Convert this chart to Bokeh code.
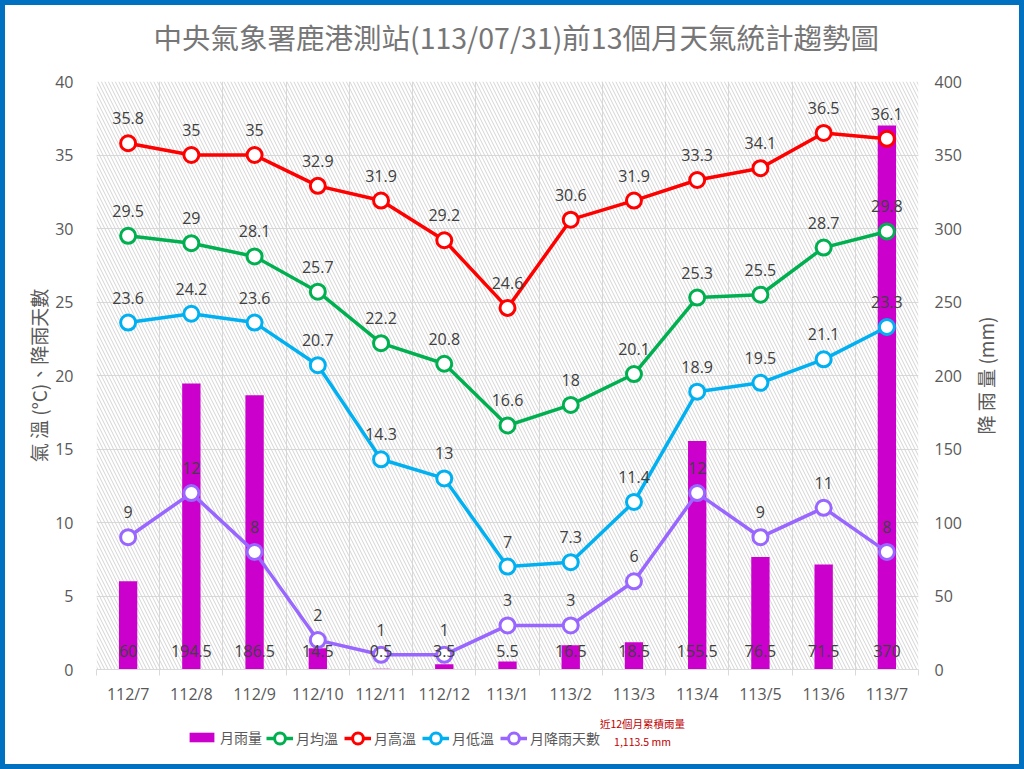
from bokeh.plotting import figure
from bokeh.layouts import column, row
from bokeh.models import (Range1d, LinearAxis, FixedTicker, SingleIntervalTicker, ColumnDataSource,
                          LabelSet, Legend, LegendItem, BoxAnnotation, Label)
from bokeh.embed import file_html
from bokeh.resources import INLINE
from bokeh.core.properties import value

# ---------------- data ----------------
months = ["112/7", "112/8", "112/9", "112/10", "112/11", "112/12", "113/1",
          "113/2", "113/3", "113/4", "113/5", "113/6", "113/7"]
rain_mm = [60, 194.5, 186.5, 14.5, 0.5, 3.5, 5.5, 16.5, 18.5, 155.5, 76.5, 71.5, 370]
avg_temp = [29.5, 29, 28.1, 25.7, 22.2, 20.8, 16.6, 18, 20.1, 25.3, 25.5, 28.7, 29.8]
high_temp = [35.8, 35, 35, 32.9, 31.9, 29.2, 24.6, 30.6, 31.9, 33.3, 34.1, 36.5, 36.1]
low_temp = [23.6, 24.2, 23.6, 20.7, 14.3, 13, 7, 7.3, 11.4, 18.9, 19.5, 21.1, 23.3]
rain_days = [9, 12, 8, 2, 1, 1, 3, 3, 6, 12, 9, 11, 8]
title_text = "中央氣象署鹿港測站(113/07/31)前13個月天氣統計趨勢圖"
left_label = "氣 溫 (°C)、降雨天數"
right_label = "降 雨 量 (mm)"
note_lines = ["近12個月累積雨量", "1,113.5 mm"]

CJK = "Noto Sans CJK TC"
NUM = "Open Sans"
GREY = "#595959"
LBL = "#404040"
GRID = "#d9d9d9"
BAR_C = "#CC00CC"

n = len(months)
xs = list(range(n))

def fmt(v):
    return f"{v:g}"

src = ColumnDataSource(dict(
    x=xs, rain=rain_mm, avg=avg_temp, high=high_temp, low=low_temp, days=rain_days,
    base=[0] * n,
    rain_l=[fmt(v) for v in rain_mm], avg_l=[fmt(v) for v in avg_temp],
    high_l=[fmt(v) for v in high_temp], low_l=[fmt(v) for v in low_temp],
    days_l=[fmt(v) for v in rain_days],
))

# layout sizes (pixels inside the 5px blue border)
W_ALL, H_ALL = 1014, 759
W_R = 51
W = W_ALL - W_R
LEFT, FRAME_W = 91, 822
TOP, FRAME_H = 76, 588
H_T = 64
H_LEG = 54
H_MAIN = H_ALL - H_T - H_LEG


def blank_fig(width, height, **kw):
    f = figure(width=width, height=height, output_backend="svg", toolbar_location=None,
               x_range=Range1d(-100, -99), y_range=Range1d(-100, -99), **kw)
    f.outline_line_color = None
    f.xgrid.visible = False
    f.ygrid.visible = False
    f.background_fill_color = "white"
    f.border_fill_color = "white"
    return f

# ---------------- title strip ----------------
t = blank_fig(W, H_T, x_axis_location=None, y_axis_location=None,
              min_border_left=0, min_border_right=0, min_border_top=0, min_border_bottom=0)
t.add_layout(Label(x=57, y=33, x_units="screen", y_units="screen", text=title_text,
                   text_align="left", text_baseline="middle", text_font=CJK,
                   text_font_size="28.5px", text_color="#767676"))

# ---------------- main chart ----------------
p = figure(width=W, height=H_MAIN, output_backend="svg", toolbar_location=None,
           x_range=Range1d(-0.5, n - 0.5), y_range=Range1d(0, 40),
           min_border_left=LEFT, min_border_right=W - LEFT - FRAME_W,
           min_border_top=TOP - H_T, min_border_bottom=H_MAIN - (TOP - H_T) - FRAME_H)
p.extra_y_ranges = {"rain": Range1d(0, 400)}
p.outline_line_color = None
p.background_fill_color = "white"
p.border_fill_color = "white"

# background hatch
p.add_layout(BoxAnnotation(fill_alpha=0, line_color=None, hatch_pattern="left_diagonal_line",
                           hatch_color="#d4d4d4", hatch_scale=7, hatch_weight=1, level="underlay"))

xa = p.xaxis[0]
xa.ticker = FixedTicker(ticks=xs, minor_ticks=[i - 0.5 for i in range(n + 1)])
xa.major_label_overrides = {i: m for i, m in enumerate(months)}
xa.major_tick_line_color = None
xa.major_tick_out = 0
xa.major_tick_in = 0
xa.minor_tick_line_color = GRID
xa.minor_tick_out = 6
xa.minor_tick_in = 0
xa.axis_line_color = GRID
xa.major_label_standoff = 7
xa.major_label_text_font = NUM
xa.major_label_text_font_size = "16px"
xa.major_label_text_color = GREY

ya = p.yaxis[0]
ya.ticker = SingleIntervalTicker(interval=5)
ya.axis_line_color = None
ya.major_tick_line_color = None
ya.minor_tick_line_color = None
ya.major_tick_out = 0
ya.major_label_standoff = 19
ya.major_label_text_font = NUM
ya.major_label_text_font_size = "16px"
ya.major_label_text_color = GREY
ya.axis_label = left_label
ya.axis_label_text_font = CJK
ya.axis_label_text_font_size = "19px"
ya.axis_label_text_font_style = "normal"
ya.axis_label_text_color = GREY
ya.axis_label_standoff = 0

ra = LinearAxis(y_range_name="rain", ticker=SingleIntervalTicker(interval=50))
ra.axis_line_color = None
ra.major_tick_line_color = None
ra.minor_tick_line_color = None
ra.major_tick_out = 0
ra.major_label_standoff = 12
ra.major_label_text_font = NUM
ra.major_label_text_font_size = "16px"
ra.major_label_text_color = GREY
p.add_layout(ra, "right")

p.xgrid.grid_line_color = None
p.xgrid.minor_grid_line_color = GRID
p.ygrid.grid_line_color = GRID

p.vbar(x="x", top="rain", width=0.29, y_range_name="rain", source=src,
       fill_color=BAR_C, line_color=None)

series = [("avg", "#00B050", "月均溫"), ("high", "#FF0000", "月高溫"),
          ("low", "#00B0F0", "月低溫"), ("days", "#9966FF", "月降雨天數")]
for col, color, name in series:
    p.line(x="x", y=col, source=src, line_color=color, line_width=3.5)
    p.scatter(x="x", y=col, source=src, size=15, fill_color="white",
              line_color=color, line_width=3)

for col in ["avg", "high", "low", "days"]:
    p.add_layout(LabelSet(x="x", y=col, text=col + "_l", source=src, y_offset=25,
                          text_align="center", text_baseline="middle",
                          text_font=value(NUM), text_font_size="16px", text_color=LBL))
p.add_layout(LabelSet(x="x", y="base", text="rain_l", source=src, y_offset=19,
                      text_align="center", text_baseline="middle",
                      text_font=value(NUM), text_font_size="16px", text_color=LBL))

# ---------------- legend strip ----------------
q = blank_fig(W, H_LEG, x_axis_location=None, y_axis_location=None,
              min_border_left=0, min_border_right=0, min_border_top=0, min_border_bottom=0)

bar_item = LegendItem(label="月雨量", renderers=[
    q.vbar(x="x", top="rain", width=0.29, source=src, fill_color=BAR_C, line_color=None,
           visible=False)])
line_items = []
for col, color, name in series:
    ln = q.line(x="x", y=col, source=src, line_color=color, line_width=3.5, visible=False)
    sc = q.scatter(x="x", y=col, source=src, size=13, fill_color="white",
                   line_color=color, line_width=3, visible=False)
    line_items.append(LegendItem(label=name, renderers=[ln, sc]))

leg_style = dict(orientation="horizontal", border_line_color=None, background_fill_alpha=0,
                 inactive_fill_alpha=0, label_text_font=CJK, label_text_font_size="14px",
                 label_text_color=GREY, label_standoff=3, padding=0, margin=0)
q.add_layout(Legend(items=[bar_item], location=(90, 17), glyph_width=31, glyph_height=12,
                    spacing=0, **leg_style), "center")
q.add_layout(Legend(items=line_items, location=(170, 12), glyph_width=27, glyph_height=28,
                    spacing=6, **leg_style), "center")

q.add_layout(Label(x=546, y=41, x_units="screen", y_units="screen", text=note_lines[0],
                   text_align="center", text_baseline="middle", text_font=CJK,
                   text_font_size="10.5px", text_color="#C00000"))
q.add_layout(Label(x=546, y=23, x_units="screen", y_units="screen", text=note_lines[1],
                   text_align="center", text_baseline="middle", text_font=CJK,
                   text_font_size="10.5px", text_color="#C00000"))

# ---------------- right axis-title strip ----------------
r = blank_fig(W_R, H_ALL, x_axis_location=None,
              min_border_left=24, min_border_right=0, min_border_top=TOP,
              min_border_bottom=H_ALL - TOP - FRAME_H)
rl = r.yaxis[0]
rl.ticker = FixedTicker(ticks=[])
rl.axis_line_color = None
rl.major_tick_line_color = None
rl.minor_tick_line_color = None
rl.major_tick_out = 0
rl.major_tick_in = 0
rl.minor_tick_out = 0
rl.minor_tick_in = 0
rl.major_label_standoff = 0
rl.major_label_text_font_size = "0px"
rl.axis_label = right_label
rl.axis_label_text_font = CJK
rl.axis_label_text_font_size = "19px"
rl.axis_label_text_font_style = "normal"
rl.axis_label_text_color = GREY
rl.axis_label_standoff = 0

layout = row(column(t, p, q, spacing=0), r, spacing=0,
             styles={"position": "fixed", "left": "0px", "top": "0px",
                     "border": "5px solid #0070C0", "background-color": "white"})

open("out.html", "w").write(file_html(layout, INLINE))
